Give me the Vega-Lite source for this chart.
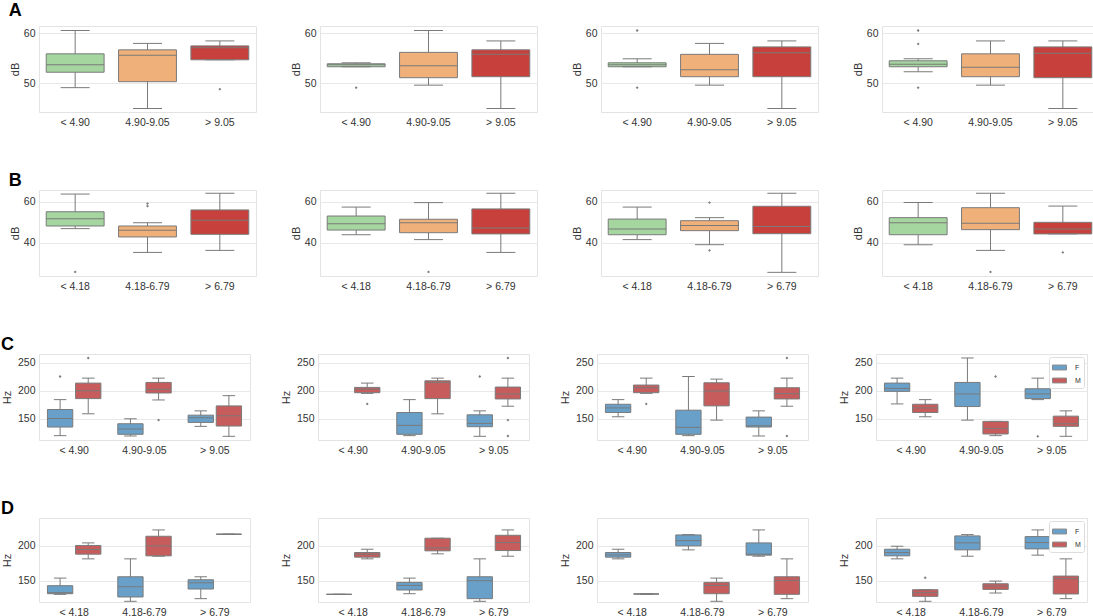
{
  "$schema": "https://vega.github.io/schema/vega-lite/v6.json",
  "background": "white",
  "padding": {"left": 0, "top": 1, "right": 0, "bottom": 0},
  "datasets": {
    "d": [
      {"p":"A1","c":"< 4.90","lo":49.1,"q1":52.2,"md":53.7,"q3":55.9,"hi":60.6},
      {"p":"A1","c":"4.90-9.05","lo":44.9,"q1":50.3,"md":55.6,"q3":56.7,"hi":58.0},
      {"p":"A1","c":"> 9.05","lo":54.7,"q1":54.7,"md":57.1,"q3":57.5,"hi":58.5},
      {"p":"A1","c":"> 9.05","v":48.8},
      {"p":"A2","c":"< 4.90","lo":53.3,"q1":53.3,"md":53.7,"q3":53.9,"hi":54.1},
      {"p":"A2","c":"< 4.90","v":49.1},
      {"p":"A2","c":"4.90-9.05","lo":49.6,"q1":51.1,"md":53.5,"q3":56.2,"hi":60.6},
      {"p":"A2","c":"> 9.05","lo":44.9,"q1":51.3,"md":55.8,"q3":56.7,"hi":58.5},
      {"p":"A3","c":"< 4.90","lo":53.3,"q1":53.3,"md":53.7,"q3":54.1,"hi":54.9},
      {"p":"A3","c":"< 4.90","v":60.6},
      {"p":"A3","c":"< 4.90","v":49.1},
      {"p":"A3","c":"4.90-9.05","lo":49.6,"q1":51.3,"md":52.7,"q3":55.8,"hi":58.0},
      {"p":"A3","c":"> 9.05","lo":44.9,"q1":51.3,"md":56.1,"q3":57.3,"hi":58.5},
      {"p":"A4","c":"< 4.90","lo":52.3,"q1":53.3,"md":53.8,"q3":54.5,"hi":54.9},
      {"p":"A4","c":"< 4.90","v":60.6},
      {"p":"A4","c":"< 4.90","v":57.9},
      {"p":"A4","c":"< 4.90","v":49.1},
      {"p":"A4","c":"4.90-9.05","lo":49.6,"q1":51.3,"md":53.2,"q3":55.9,"hi":58.5},
      {"p":"A4","c":"> 9.05","lo":44.9,"q1":51.1,"md":56.0,"q3":57.3,"hi":58.5},

      {"p":"B1","c":"< 4.18","lo":46.9,"q1":48.2,"md":51.8,"q3":55.2,"hi":63.9},
      {"p":"B1","c":"< 4.18","v":25.6},
      {"p":"B1","c":"4.18-6.79","lo":35.2,"q1":42.8,"md":46.1,"q3":48.2,"hi":49.8},
      {"p":"B1","c":"4.18-6.79","v":59.2},
      {"p":"B1","c":"4.18-6.79","v":58.0},
      {"p":"B1","c":"> 6.79","lo":36.2,"q1":44.1,"md":51.0,"q3":56.1,"hi":64.3},
      {"p":"B2","c":"< 4.18","lo":43.9,"q1":46.2,"md":49.3,"q3":53.1,"hi":57.5},
      {"p":"B2","c":"4.18-6.79","lo":41.5,"q1":44.9,"md":49.8,"q3":51.5,"hi":59.7},
      {"p":"B2","c":"4.18-6.79","v":25.6},
      {"p":"B2","c":"> 6.79","lo":35.2,"q1":44.3,"md":47.2,"q3":56.6,"hi":64.3},
      {"p":"B3","c":"< 4.18","lo":41.5,"q1":43.9,"md":46.7,"q3":51.6,"hi":57.5},
      {"p":"B3","c":"4.18-6.79","lo":39.0,"q1":45.9,"md":48.4,"q3":50.8,"hi":52.3},
      {"p":"B3","c":"4.18-6.79","v":59.7},
      {"p":"B3","c":"4.18-6.79","v":36.2},
      {"p":"B3","c":"> 6.79","lo":25.4,"q1":44.4,"md":48.0,"q3":57.9,"hi":64.3},
      {"p":"B4","c":"< 4.18","lo":39.0,"q1":43.9,"md":49.8,"q3":52.3,"hi":59.7},
      {"p":"B4","c":"4.18-6.79","lo":36.2,"q1":46.4,"md":49.5,"q3":57.2,"hi":64.3},
      {"p":"B4","c":"4.18-6.79","v":25.6},
      {"p":"B4","c":"> 6.79","lo":44.3,"q1":44.3,"md":46.7,"q3":50.0,"hi":58.0},
      {"p":"B4","c":"> 6.79","v":35.2},

      {"p":"C1","c":"< 4.90","h":"F","lo":119.8,"q1":135.2,"md":150.6,"q3":166.6,"hi":184.3},
      {"p":"C1","c":"< 4.90","h":"F","v":225.7},
      {"p":"C1","c":"< 4.90","h":"M","lo":158.9,"q1":186.1,"md":200.3,"q3":213.9,"hi":222.8},
      {"p":"C1","c":"< 4.90","h":"M","v":258.9},
      {"p":"C1","c":"4.90-9.05","h":"F","lo":119.2,"q1":122.2,"md":131.7,"q3":141.1,"hi":150.0},
      {"p":"C1","c":"4.90-9.05","h":"M","lo":183.7,"q1":196.2,"md":202.7,"q3":215.1,"hi":222.8},
      {"p":"C1","c":"4.90-9.05","h":"M","v":147.6},
      {"p":"C1","c":"> 9.05","h":"F","lo":136.4,"q1":143.5,"md":151.8,"q3":156.5,"hi":164.2},
      {"p":"C1","c":"> 9.05","h":"M","lo":118.6,"q1":137.0,"md":155.3,"q3":173.1,"hi":191.4},
      {"p":"C2","c":"< 4.90","h":"M","lo":195.5,"q1":196.7,"md":203.0,"q3":206.2,"hi":213.9},
      {"p":"C2","c":"< 4.90","h":"M","v":176.6},
      {"p":"C2","c":"4.90-9.05","h":"F","lo":119.8,"q1":122.2,"md":138.2,"q3":161.2,"hi":184.3},
      {"p":"C2","c":"4.90-9.05","h":"M","lo":158.9,"q1":186.1,"md":215.1,"q3":218.0,"hi":222.8},
      {"p":"C2","c":"> 9.05","h":"F","lo":118.6,"q1":135.8,"md":141.7,"q3":157.1,"hi":164.2},
      {"p":"C2","c":"> 9.05","h":"F","v":225.7},
      {"p":"C2","c":"> 9.05","h":"M","lo":172.5,"q1":185.5,"md":194.4,"q3":206.8,"hi":222.8},
      {"p":"C2","c":"> 9.05","h":"M","v":258.9},
      {"p":"C2","c":"> 9.05","h":"M","v":147.6},
      {"p":"C2","c":"> 9.05","h":"M","v":119.2},
      {"p":"C3","c":"< 4.90","h":"F","lo":153.6,"q1":161.2,"md":169.5,"q3":176.0,"hi":184.3},
      {"p":"C3","c":"< 4.90","h":"M","lo":195.5,"q1":196.7,"md":205.6,"q3":210.4,"hi":222.8},
      {"p":"C3","c":"< 4.90","h":"M","v":176.6},
      {"p":"C3","c":"4.90-9.05","h":"F","lo":119.8,"q1":122.2,"md":134.6,"q3":165.4,"hi":225.7},
      {"p":"C3","c":"4.90-9.05","h":"M","lo":147.6,"q1":173.1,"md":199.7,"q3":214.5,"hi":221.0},
      {"p":"C3","c":"> 9.05","h":"F","lo":119.2,"q1":135.2,"md":137.6,"q3":153.0,"hi":164.2},
      {"p":"C3","c":"> 9.05","h":"M","lo":172.5,"q1":185.5,"md":195.0,"q3":205.6,"hi":222.8},
      {"p":"C3","c":"> 9.05","h":"M","v":258.9},
      {"p":"C3","c":"> 9.05","h":"M","v":119.2},
      {"p":"C4","c":"< 4.90","h":"F","lo":176.6,"q1":199.1,"md":204.4,"q3":213.9,"hi":222.8},
      {"p":"C4","c":"< 4.90","h":"M","lo":153.6,"q1":161.2,"md":169.5,"q3":176.0,"hi":184.3},
      {"p":"C4","c":"4.90-9.05","h":"F","lo":147.6,"q1":171.9,"md":194.4,"q3":215.1,"hi":258.9},
      {"p":"C4","c":"4.90-9.05","h":"M","lo":119.8,"q1":122.8,"md":132.8,"q3":145.3,"hi":145.3},
      {"p":"C4","c":"4.90-9.05","h":"M","v":225.7},
      {"p":"C4","c":"> 9.05","h":"F","lo":184.3,"q1":186.1,"md":194.4,"q3":203.8,"hi":222.8},
      {"p":"C4","c":"> 9.05","h":"F","v":118.6},
      {"p":"C4","c":"> 9.05","h":"M","lo":118.6,"q1":136.4,"md":141.1,"q3":154.7,"hi":164.2},

      {"p":"D1","c":"< 4.18","h":"F","lo":130.5,"q1":131.4,"md":132.9,"q3":142.9,"hi":153.8},
      {"p":"D1","c":"< 4.18","h":"M","lo":181.4,"q1":188.1,"md":194.8,"q3":200.5,"hi":204.3},
      {"p":"D1","c":"4.18-6.79","h":"F","lo":120.5,"q1":126.7,"md":141.4,"q3":155.7,"hi":181.4},
      {"p":"D1","c":"4.18-6.79","h":"M","lo":185.2,"q1":185.7,"md":200.0,"q3":213.8,"hi":222.9},
      {"p":"D1","c":"> 6.79","h":"F","lo":124.3,"q1":138.1,"md":147.1,"q3":151.4,"hi":155.7},
      {"p":"D1","c":"> 6.79","h":"M","lo":216.7,"q1":216.7,"md":216.7,"q3":216.7,"hi":216.7},
      {"p":"D2","c":"< 4.18","h":"F","lo":130.5,"q1":130.5,"md":130.5,"q3":130.5,"hi":130.5},
      {"p":"D2","c":"< 4.18","h":"M","lo":181.4,"q1":183.8,"md":188.1,"q3":190.5,"hi":195.2},
      {"p":"D2","c":"4.18-6.79","h":"F","lo":131.4,"q1":136.7,"md":143.3,"q3":147.6,"hi":153.8},
      {"p":"D2","c":"4.18-6.79","h":"M","lo":188.6,"q1":192.9,"md":197.1,"q3":211.0,"hi":211.0},
      {"p":"D2","c":"> 6.79","h":"F","lo":120.5,"q1":124.3,"md":150.0,"q3":155.7,"hi":181.4},
      {"p":"D2","c":"> 6.79","h":"M","lo":185.2,"q1":193.3,"md":204.8,"q3":215.2,"hi":222.9},
      {"p":"D3","c":"< 4.18","h":"F","lo":181.4,"q1":183.8,"md":187.1,"q3":190.5,"hi":195.2},
      {"p":"D3","c":"< 4.18","h":"M","lo":131.0,"q1":131.0,"md":131.0,"q3":131.0,"hi":131.0},
      {"p":"D3","c":"4.18-6.79","h":"F","lo":194.3,"q1":200.0,"md":207.6,"q3":215.7,"hi":216.2},
      {"p":"D3","c":"4.18-6.79","h":"M","lo":120.5,"q1":131.4,"md":143.3,"q3":147.6,"hi":153.8},
      {"p":"D3","c":"> 6.79","h":"F","lo":185.2,"q1":186.7,"md":188.1,"q3":204.3,"hi":222.9},
      {"p":"D3","c":"> 6.79","h":"M","lo":124.3,"q1":130.5,"md":150.5,"q3":155.7,"hi":181.4},
      {"p":"D4","c":"< 4.18","h":"F","lo":181.4,"q1":185.7,"md":190.5,"q3":195.2,"hi":199.5},
      {"p":"D4","c":"< 4.18","h":"M","lo":120.5,"q1":127.6,"md":132.9,"q3":137.1,"hi":137.1},
      {"p":"D4","c":"< 4.18","h":"M","v":154.3},
      {"p":"D4","c":"4.18-6.79","h":"F","lo":185.2,"q1":194.3,"md":204.3,"q3":214.3,"hi":216.2},
      {"p":"D4","c":"4.18-6.79","h":"M","lo":132.4,"q1":137.6,"md":142.4,"q3":145.7,"hi":149.5},
      {"p":"D4","c":"> 6.79","h":"F","lo":186.7,"q1":195.7,"md":204.8,"q3":213.3,"hi":222.9},
      {"p":"D4","c":"> 6.79","h":"M","lo":124.3,"q1":131.0,"md":152.9,"q3":156.7,"hi":181.4}
    ]
  },
  "resolve": {"scale": {"color": "independent"}, "legend": {"color": "independent"}},
  "spacing": 43,
  "vconcat": [
    {
      "title": {"text": "A", "anchor": "start", "fontSize": 18, "fontWeight": "bold", "color": "#000000", "offset": 6},
      "spacing": 32,
      "hconcat": [
        {"width": 217, "height": 86, "data": {"name": "d"}, "transform": [{"filter": "datum.p == 'A1'"}],
         "encoding": {"x": {"field": "c", "type": "nominal", "sort": ["< 4.90", "4.90-9.05", "> 9.05"], "title": null, "scale": {"paddingInner": 0.2, "paddingOuter": 0.1}}},
         "layer": [
          {"mark": "rule", "encoding": {"y": {"field": "lo", "type": "quantitative", "title": "dB", "scale": {"domain": [44.2, 61.5], "nice": false, "zero": false}, "axis": {"values": [50, 60], "titlePadding": 3, "labelPadding": 4}}, "y2": {"field": "hi"}}},
          {"mark": "bar", "encoding": {"y": {"field": "q1", "type": "quantitative", "title": "dB"}, "y2": {"field": "q3"}, "color": {"field": "c", "type": "nominal", "scale": {"domain": ["< 4.90", "4.90-9.05", "> 9.05"], "range": ["#a5d6a0", "#f0b07a", "#c8403b"]}, "legend": null}}},
          {"mark": {"type": "tick", "size": 58}, "encoding": {"y": {"field": "md", "type": "quantitative", "title": "dB"}}},
          {"mark": {"type": "tick", "size": 29}, "encoding": {"y": {"field": "lo", "type": "quantitative", "title": "dB"}}},
          {"mark": {"type": "tick", "size": 29}, "encoding": {"y": {"field": "hi", "type": "quantitative", "title": "dB"}}},
          {"mark": "point", "encoding": {"y": {"field": "v", "type": "quantitative", "title": "dB"}}}
         ]},
        {"width": 217, "height": 86, "data": {"name": "d"}, "transform": [{"filter": "datum.p == 'A2'"}],
         "encoding": {"x": {"field": "c", "type": "nominal", "sort": ["< 4.90", "4.90-9.05", "> 9.05"], "title": null, "scale": {"paddingInner": 0.2, "paddingOuter": 0.1}}},
         "layer": [
          {"mark": "rule", "encoding": {"y": {"field": "lo", "type": "quantitative", "title": "dB", "scale": {"domain": [44.2, 61.5], "nice": false, "zero": false}, "axis": {"values": [50, 60], "titlePadding": 3, "labelPadding": 4}}, "y2": {"field": "hi"}}},
          {"mark": "bar", "encoding": {"y": {"field": "q1", "type": "quantitative", "title": "dB"}, "y2": {"field": "q3"}, "color": {"field": "c", "type": "nominal", "scale": {"domain": ["< 4.90", "4.90-9.05", "> 9.05"], "range": ["#a5d6a0", "#f0b07a", "#c8403b"]}, "legend": null}}},
          {"mark": {"type": "tick", "size": 58}, "encoding": {"y": {"field": "md", "type": "quantitative", "title": "dB"}}},
          {"mark": {"type": "tick", "size": 29}, "encoding": {"y": {"field": "lo", "type": "quantitative", "title": "dB"}}},
          {"mark": {"type": "tick", "size": 29}, "encoding": {"y": {"field": "hi", "type": "quantitative", "title": "dB"}}},
          {"mark": "point", "encoding": {"y": {"field": "v", "type": "quantitative", "title": "dB"}}}
         ]},
        {"width": 217, "height": 86, "data": {"name": "d"}, "transform": [{"filter": "datum.p == 'A3'"}],
         "encoding": {"x": {"field": "c", "type": "nominal", "sort": ["< 4.90", "4.90-9.05", "> 9.05"], "title": null, "scale": {"paddingInner": 0.2, "paddingOuter": 0.1}}},
         "layer": [
          {"mark": "rule", "encoding": {"y": {"field": "lo", "type": "quantitative", "title": "dB", "scale": {"domain": [44.2, 61.5], "nice": false, "zero": false}, "axis": {"values": [50, 60], "titlePadding": 3, "labelPadding": 4}}, "y2": {"field": "hi"}}},
          {"mark": "bar", "encoding": {"y": {"field": "q1", "type": "quantitative", "title": "dB"}, "y2": {"field": "q3"}, "color": {"field": "c", "type": "nominal", "scale": {"domain": ["< 4.90", "4.90-9.05", "> 9.05"], "range": ["#a5d6a0", "#f0b07a", "#c8403b"]}, "legend": null}}},
          {"mark": {"type": "tick", "size": 58}, "encoding": {"y": {"field": "md", "type": "quantitative", "title": "dB"}}},
          {"mark": {"type": "tick", "size": 29}, "encoding": {"y": {"field": "lo", "type": "quantitative", "title": "dB"}}},
          {"mark": {"type": "tick", "size": 29}, "encoding": {"y": {"field": "hi", "type": "quantitative", "title": "dB"}}},
          {"mark": "point", "encoding": {"y": {"field": "v", "type": "quantitative", "title": "dB"}}}
         ]},
        {"width": 217, "height": 86, "data": {"name": "d"}, "transform": [{"filter": "datum.p == 'A4'"}],
         "encoding": {"x": {"field": "c", "type": "nominal", "sort": ["< 4.90", "4.90-9.05", "> 9.05"], "title": null, "scale": {"paddingInner": 0.2, "paddingOuter": 0.1}}},
         "layer": [
          {"mark": "rule", "encoding": {"y": {"field": "lo", "type": "quantitative", "title": "dB", "scale": {"domain": [44.2, 61.5], "nice": false, "zero": false}, "axis": {"values": [50, 60], "titlePadding": 3, "labelPadding": 4}}, "y2": {"field": "hi"}}},
          {"mark": "bar", "encoding": {"y": {"field": "q1", "type": "quantitative", "title": "dB"}, "y2": {"field": "q3"}, "color": {"field": "c", "type": "nominal", "scale": {"domain": ["< 4.90", "4.90-9.05", "> 9.05"], "range": ["#a5d6a0", "#f0b07a", "#c8403b"]}, "legend": null}}},
          {"mark": {"type": "tick", "size": 58}, "encoding": {"y": {"field": "md", "type": "quantitative", "title": "dB"}}},
          {"mark": {"type": "tick", "size": 29}, "encoding": {"y": {"field": "lo", "type": "quantitative", "title": "dB"}}},
          {"mark": {"type": "tick", "size": 29}, "encoding": {"y": {"field": "hi", "type": "quantitative", "title": "dB"}}},
          {"mark": "point", "encoding": {"y": {"field": "v", "type": "quantitative", "title": "dB"}}}
         ]}
      ]
    },
    {
      "title": {"text": "B", "anchor": "start", "fontSize": 18, "fontWeight": "bold", "color": "#000000", "offset": 0},
      "spacing": 32,
      "hconcat": [
        {"width": 217, "height": 86, "data": {"name": "d"}, "transform": [{"filter": "datum.p == 'B1'"}],
         "encoding": {"x": {"field": "c", "type": "nominal", "sort": ["< 4.18", "4.18-6.79", "> 6.79"], "title": null, "scale": {"paddingInner": 0.2, "paddingOuter": 0.1}}},
         "layer": [
          {"mark": "rule", "encoding": {"y": {"field": "lo", "type": "quantitative", "title": "dB", "scale": {"domain": [23.6, 65.9], "nice": false, "zero": false}, "axis": {"values": [40, 60], "titlePadding": 3, "labelPadding": 4}}, "y2": {"field": "hi"}}},
          {"mark": "bar", "encoding": {"y": {"field": "q1", "type": "quantitative", "title": "dB"}, "y2": {"field": "q3"}, "color": {"field": "c", "type": "nominal", "scale": {"domain": ["< 4.18", "4.18-6.79", "> 6.79"], "range": ["#a5d6a0", "#f0b07a", "#c8403b"]}, "legend": null}}},
          {"mark": {"type": "tick", "size": 58}, "encoding": {"y": {"field": "md", "type": "quantitative", "title": "dB"}}},
          {"mark": {"type": "tick", "size": 29}, "encoding": {"y": {"field": "lo", "type": "quantitative", "title": "dB"}}},
          {"mark": {"type": "tick", "size": 29}, "encoding": {"y": {"field": "hi", "type": "quantitative", "title": "dB"}}},
          {"mark": "point", "encoding": {"y": {"field": "v", "type": "quantitative", "title": "dB"}}}
         ]},
        {"width": 217, "height": 86, "data": {"name": "d"}, "transform": [{"filter": "datum.p == 'B2'"}],
         "encoding": {"x": {"field": "c", "type": "nominal", "sort": ["< 4.18", "4.18-6.79", "> 6.79"], "title": null, "scale": {"paddingInner": 0.2, "paddingOuter": 0.1}}},
         "layer": [
          {"mark": "rule", "encoding": {"y": {"field": "lo", "type": "quantitative", "title": "dB", "scale": {"domain": [23.6, 65.9], "nice": false, "zero": false}, "axis": {"values": [40, 60], "titlePadding": 3, "labelPadding": 4}}, "y2": {"field": "hi"}}},
          {"mark": "bar", "encoding": {"y": {"field": "q1", "type": "quantitative", "title": "dB"}, "y2": {"field": "q3"}, "color": {"field": "c", "type": "nominal", "scale": {"domain": ["< 4.18", "4.18-6.79", "> 6.79"], "range": ["#a5d6a0", "#f0b07a", "#c8403b"]}, "legend": null}}},
          {"mark": {"type": "tick", "size": 58}, "encoding": {"y": {"field": "md", "type": "quantitative", "title": "dB"}}},
          {"mark": {"type": "tick", "size": 29}, "encoding": {"y": {"field": "lo", "type": "quantitative", "title": "dB"}}},
          {"mark": {"type": "tick", "size": 29}, "encoding": {"y": {"field": "hi", "type": "quantitative", "title": "dB"}}},
          {"mark": "point", "encoding": {"y": {"field": "v", "type": "quantitative", "title": "dB"}}}
         ]},
        {"width": 217, "height": 86, "data": {"name": "d"}, "transform": [{"filter": "datum.p == 'B3'"}],
         "encoding": {"x": {"field": "c", "type": "nominal", "sort": ["< 4.18", "4.18-6.79", "> 6.79"], "title": null, "scale": {"paddingInner": 0.2, "paddingOuter": 0.1}}},
         "layer": [
          {"mark": "rule", "encoding": {"y": {"field": "lo", "type": "quantitative", "title": "dB", "scale": {"domain": [23.6, 65.9], "nice": false, "zero": false}, "axis": {"values": [40, 60], "titlePadding": 3, "labelPadding": 4}}, "y2": {"field": "hi"}}},
          {"mark": "bar", "encoding": {"y": {"field": "q1", "type": "quantitative", "title": "dB"}, "y2": {"field": "q3"}, "color": {"field": "c", "type": "nominal", "scale": {"domain": ["< 4.18", "4.18-6.79", "> 6.79"], "range": ["#a5d6a0", "#f0b07a", "#c8403b"]}, "legend": null}}},
          {"mark": {"type": "tick", "size": 58}, "encoding": {"y": {"field": "md", "type": "quantitative", "title": "dB"}}},
          {"mark": {"type": "tick", "size": 29}, "encoding": {"y": {"field": "lo", "type": "quantitative", "title": "dB"}}},
          {"mark": {"type": "tick", "size": 29}, "encoding": {"y": {"field": "hi", "type": "quantitative", "title": "dB"}}},
          {"mark": "point", "encoding": {"y": {"field": "v", "type": "quantitative", "title": "dB"}}}
         ]},
        {"width": 217, "height": 86, "data": {"name": "d"}, "transform": [{"filter": "datum.p == 'B4'"}],
         "encoding": {"x": {"field": "c", "type": "nominal", "sort": ["< 4.18", "4.18-6.79", "> 6.79"], "title": null, "scale": {"paddingInner": 0.2, "paddingOuter": 0.1}}},
         "layer": [
          {"mark": "rule", "encoding": {"y": {"field": "lo", "type": "quantitative", "title": "dB", "scale": {"domain": [23.6, 65.9], "nice": false, "zero": false}, "axis": {"values": [40, 60], "titlePadding": 3, "labelPadding": 4}}, "y2": {"field": "hi"}}},
          {"mark": "bar", "encoding": {"y": {"field": "q1", "type": "quantitative", "title": "dB"}, "y2": {"field": "q3"}, "color": {"field": "c", "type": "nominal", "scale": {"domain": ["< 4.18", "4.18-6.79", "> 6.79"], "range": ["#a5d6a0", "#f0b07a", "#c8403b"]}, "legend": null}}},
          {"mark": {"type": "tick", "size": 58}, "encoding": {"y": {"field": "md", "type": "quantitative", "title": "dB"}}},
          {"mark": {"type": "tick", "size": 29}, "encoding": {"y": {"field": "lo", "type": "quantitative", "title": "dB"}}},
          {"mark": {"type": "tick", "size": 29}, "encoding": {"y": {"field": "hi", "type": "quantitative", "title": "dB"}}},
          {"mark": "point", "encoding": {"y": {"field": "v", "type": "quantitative", "title": "dB"}}}
         ]}
      ]
    },
    {
      "title": {"text": "C", "anchor": "start", "fontSize": 18, "fontWeight": "bold", "color": "#000000", "offset": 0},
      "spacing": 28,
      "resolve": {"scale": {"color": "independent"}, "legend": {"color": "independent"}},
      "hconcat": [
        {"width": 211, "height": 86, "data": {"name": "d"}, "transform": [{"filter": "datum.p == 'C1'"}],
         "encoding": {"x": {"field": "c", "type": "nominal", "sort": ["< 4.90", "4.90-9.05", "> 9.05"], "title": null, "scale": {"paddingInner": 0, "paddingOuter": 0}},
                      "xOffset": {"field": "h", "type": "nominal", "scale": {"domain": ["F", "M"], "paddingInner": 0.1, "paddingOuter": 0.3}}},
         "layer": [
          {"mark": "rule", "encoding": {"y": {"field": "lo", "type": "quantitative", "title": "Hz", "scale": {"domain": [112, 266], "nice": false, "zero": false}, "axis": {"values": [150, 200, 250]}}, "y2": {"field": "hi"}}},
          {"mark": "bar", "encoding": {"y": {"field": "q1", "type": "quantitative", "title": "Hz"}, "y2": {"field": "q3"}, "color": {"field": "h", "type": "nominal", "scale": {"domain": ["F", "M"], "range": ["#68a0c9", "#c75c5c"]}, "legend": null}}},
          {"mark": {"type": "tick", "size": 25}, "encoding": {"y": {"field": "md", "type": "quantitative", "title": "Hz"}}},
          {"mark": {"type": "tick", "size": 12.5}, "encoding": {"y": {"field": "lo", "type": "quantitative", "title": "Hz"}}},
          {"mark": {"type": "tick", "size": 12.5}, "encoding": {"y": {"field": "hi", "type": "quantitative", "title": "Hz"}}},
          {"mark": "point", "encoding": {"y": {"field": "v", "type": "quantitative", "title": "Hz"}}}
         ]},
        {"width": 211, "height": 86, "data": {"name": "d"}, "transform": [{"filter": "datum.p == 'C2'"}],
         "encoding": {"x": {"field": "c", "type": "nominal", "sort": ["< 4.90", "4.90-9.05", "> 9.05"], "title": null, "scale": {"paddingInner": 0, "paddingOuter": 0}},
                      "xOffset": {"field": "h", "type": "nominal", "scale": {"domain": ["F", "M"], "paddingInner": 0.1, "paddingOuter": 0.3}}},
         "layer": [
          {"mark": "rule", "encoding": {"y": {"field": "lo", "type": "quantitative", "title": "Hz", "scale": {"domain": [112, 266], "nice": false, "zero": false}, "axis": {"values": [150, 200, 250]}}, "y2": {"field": "hi"}}},
          {"mark": "bar", "encoding": {"y": {"field": "q1", "type": "quantitative", "title": "Hz"}, "y2": {"field": "q3"}, "color": {"field": "h", "type": "nominal", "scale": {"domain": ["F", "M"], "range": ["#68a0c9", "#c75c5c"]}, "legend": null}}},
          {"mark": {"type": "tick", "size": 25}, "encoding": {"y": {"field": "md", "type": "quantitative", "title": "Hz"}}},
          {"mark": {"type": "tick", "size": 12.5}, "encoding": {"y": {"field": "lo", "type": "quantitative", "title": "Hz"}}},
          {"mark": {"type": "tick", "size": 12.5}, "encoding": {"y": {"field": "hi", "type": "quantitative", "title": "Hz"}}},
          {"mark": "point", "encoding": {"y": {"field": "v", "type": "quantitative", "title": "Hz"}}}
         ]},
        {"width": 211, "height": 86, "data": {"name": "d"}, "transform": [{"filter": "datum.p == 'C3'"}],
         "encoding": {"x": {"field": "c", "type": "nominal", "sort": ["< 4.90", "4.90-9.05", "> 9.05"], "title": null, "scale": {"paddingInner": 0, "paddingOuter": 0}},
                      "xOffset": {"field": "h", "type": "nominal", "scale": {"domain": ["F", "M"], "paddingInner": 0.1, "paddingOuter": 0.3}}},
         "layer": [
          {"mark": "rule", "encoding": {"y": {"field": "lo", "type": "quantitative", "title": "Hz", "scale": {"domain": [112, 266], "nice": false, "zero": false}, "axis": {"values": [150, 200, 250]}}, "y2": {"field": "hi"}}},
          {"mark": "bar", "encoding": {"y": {"field": "q1", "type": "quantitative", "title": "Hz"}, "y2": {"field": "q3"}, "color": {"field": "h", "type": "nominal", "scale": {"domain": ["F", "M"], "range": ["#68a0c9", "#c75c5c"]}, "legend": null}}},
          {"mark": {"type": "tick", "size": 25}, "encoding": {"y": {"field": "md", "type": "quantitative", "title": "Hz"}}},
          {"mark": {"type": "tick", "size": 12.5}, "encoding": {"y": {"field": "lo", "type": "quantitative", "title": "Hz"}}},
          {"mark": {"type": "tick", "size": 12.5}, "encoding": {"y": {"field": "hi", "type": "quantitative", "title": "Hz"}}},
          {"mark": "point", "encoding": {"y": {"field": "v", "type": "quantitative", "title": "Hz"}}}
         ]},
        {"width": 211, "height": 86, "data": {"name": "d"}, "transform": [{"filter": "datum.p == 'C4'"}],
         "encoding": {"x": {"field": "c", "type": "nominal", "sort": ["< 4.90", "4.90-9.05", "> 9.05"], "title": null, "scale": {"paddingInner": 0, "paddingOuter": 0}},
                      "xOffset": {"field": "h", "type": "nominal", "scale": {"domain": ["F", "M"], "paddingInner": 0.1, "paddingOuter": 0.3}}},
         "layer": [
          {"mark": "rule", "encoding": {"y": {"field": "lo", "type": "quantitative", "title": "Hz", "scale": {"domain": [112, 266], "nice": false, "zero": false}, "axis": {"values": [150, 200, 250]}}, "y2": {"field": "hi"}}},
          {"mark": "bar", "encoding": {"y": {"field": "q1", "type": "quantitative", "title": "Hz"}, "y2": {"field": "q3"}, "color": {"field": "h", "type": "nominal", "scale": {"domain": ["F", "M"], "range": ["#68a0c9", "#c75c5c"]},
            "legend": {"title": null, "orient": "top-right", "offset": 3, "padding": 3, "fillColor": "#ffffff", "strokeColor": "#dddddd", "cornerRadius": 2, "symbolType": "M-1,-0.35L1,-0.35L1,0.35L-1,0.35Z", "symbolSize": 196, "symbolStrokeColor": "#8a8a8a", "symbolStrokeWidth": 0.5, "labelFontSize": 7, "labelColor": "#333333", "rowPadding": 1, "labelOffset": 8}}}},
          {"mark": {"type": "tick", "size": 25}, "encoding": {"y": {"field": "md", "type": "quantitative", "title": "Hz"}}},
          {"mark": {"type": "tick", "size": 12.5}, "encoding": {"y": {"field": "lo", "type": "quantitative", "title": "Hz"}}},
          {"mark": {"type": "tick", "size": 12.5}, "encoding": {"y": {"field": "hi", "type": "quantitative", "title": "Hz"}}},
          {"mark": "point", "encoding": {"y": {"field": "v", "type": "quantitative", "title": "Hz"}}}
         ]}
      ]
    },
    {
      "title": {"text": "D", "anchor": "start", "fontSize": 18, "fontWeight": "bold", "color": "#000000", "offset": 0},
      "spacing": 28,
      "resolve": {"scale": {"color": "independent"}, "legend": {"color": "independent"}},
      "hconcat": [
        {"width": 211, "height": 84, "data": {"name": "d"}, "transform": [{"filter": "datum.p == 'D1'"}],
         "encoding": {"x": {"field": "c", "type": "nominal", "sort": ["< 4.18", "4.18-6.79", "> 6.79"], "title": null, "scale": {"paddingInner": 0, "paddingOuter": 0}},
                      "xOffset": {"field": "h", "type": "nominal", "scale": {"domain": ["F", "M"], "paddingInner": 0.1, "paddingOuter": 0.3}}},
         "layer": [
          {"mark": "rule", "encoding": {"y": {"field": "lo", "type": "quantitative", "title": "Hz", "scale": {"domain": [119.5, 240], "nice": false, "zero": false}, "axis": {"values": [150, 200]}}, "y2": {"field": "hi"}}},
          {"mark": "bar", "encoding": {"y": {"field": "q1", "type": "quantitative", "title": "Hz"}, "y2": {"field": "q3"}, "color": {"field": "h", "type": "nominal", "scale": {"domain": ["F", "M"], "range": ["#68a0c9", "#c75c5c"]}, "legend": null}}},
          {"mark": {"type": "tick", "size": 25}, "encoding": {"y": {"field": "md", "type": "quantitative", "title": "Hz"}}},
          {"mark": {"type": "tick", "size": 12.5}, "encoding": {"y": {"field": "lo", "type": "quantitative", "title": "Hz"}}},
          {"mark": {"type": "tick", "size": 12.5}, "encoding": {"y": {"field": "hi", "type": "quantitative", "title": "Hz"}}},
          {"mark": "point", "encoding": {"y": {"field": "v", "type": "quantitative", "title": "Hz"}}}
         ]},
        {"width": 211, "height": 84, "data": {"name": "d"}, "transform": [{"filter": "datum.p == 'D2'"}],
         "encoding": {"x": {"field": "c", "type": "nominal", "sort": ["< 4.18", "4.18-6.79", "> 6.79"], "title": null, "scale": {"paddingInner": 0, "paddingOuter": 0}},
                      "xOffset": {"field": "h", "type": "nominal", "scale": {"domain": ["F", "M"], "paddingInner": 0.1, "paddingOuter": 0.3}}},
         "layer": [
          {"mark": "rule", "encoding": {"y": {"field": "lo", "type": "quantitative", "title": "Hz", "scale": {"domain": [119.5, 240], "nice": false, "zero": false}, "axis": {"values": [150, 200]}}, "y2": {"field": "hi"}}},
          {"mark": "bar", "encoding": {"y": {"field": "q1", "type": "quantitative", "title": "Hz"}, "y2": {"field": "q3"}, "color": {"field": "h", "type": "nominal", "scale": {"domain": ["F", "M"], "range": ["#68a0c9", "#c75c5c"]}, "legend": null}}},
          {"mark": {"type": "tick", "size": 25}, "encoding": {"y": {"field": "md", "type": "quantitative", "title": "Hz"}}},
          {"mark": {"type": "tick", "size": 12.5}, "encoding": {"y": {"field": "lo", "type": "quantitative", "title": "Hz"}}},
          {"mark": {"type": "tick", "size": 12.5}, "encoding": {"y": {"field": "hi", "type": "quantitative", "title": "Hz"}}},
          {"mark": "point", "encoding": {"y": {"field": "v", "type": "quantitative", "title": "Hz"}}}
         ]},
        {"width": 211, "height": 84, "data": {"name": "d"}, "transform": [{"filter": "datum.p == 'D3'"}],
         "encoding": {"x": {"field": "c", "type": "nominal", "sort": ["< 4.18", "4.18-6.79", "> 6.79"], "title": null, "scale": {"paddingInner": 0, "paddingOuter": 0}},
                      "xOffset": {"field": "h", "type": "nominal", "scale": {"domain": ["F", "M"], "paddingInner": 0.1, "paddingOuter": 0.3}}},
         "layer": [
          {"mark": "rule", "encoding": {"y": {"field": "lo", "type": "quantitative", "title": "Hz", "scale": {"domain": [119.5, 240], "nice": false, "zero": false}, "axis": {"values": [150, 200]}}, "y2": {"field": "hi"}}},
          {"mark": "bar", "encoding": {"y": {"field": "q1", "type": "quantitative", "title": "Hz"}, "y2": {"field": "q3"}, "color": {"field": "h", "type": "nominal", "scale": {"domain": ["F", "M"], "range": ["#68a0c9", "#c75c5c"]}, "legend": null}}},
          {"mark": {"type": "tick", "size": 25}, "encoding": {"y": {"field": "md", "type": "quantitative", "title": "Hz"}}},
          {"mark": {"type": "tick", "size": 12.5}, "encoding": {"y": {"field": "lo", "type": "quantitative", "title": "Hz"}}},
          {"mark": {"type": "tick", "size": 12.5}, "encoding": {"y": {"field": "hi", "type": "quantitative", "title": "Hz"}}},
          {"mark": "point", "encoding": {"y": {"field": "v", "type": "quantitative", "title": "Hz"}}}
         ]},
        {"width": 211, "height": 84, "data": {"name": "d"}, "transform": [{"filter": "datum.p == 'D4'"}],
         "encoding": {"x": {"field": "c", "type": "nominal", "sort": ["< 4.18", "4.18-6.79", "> 6.79"], "title": null, "scale": {"paddingInner": 0, "paddingOuter": 0}},
                      "xOffset": {"field": "h", "type": "nominal", "scale": {"domain": ["F", "M"], "paddingInner": 0.1, "paddingOuter": 0.3}}},
         "layer": [
          {"mark": "rule", "encoding": {"y": {"field": "lo", "type": "quantitative", "title": "Hz", "scale": {"domain": [119.5, 240], "nice": false, "zero": false}, "axis": {"values": [150, 200]}}, "y2": {"field": "hi"}}},
          {"mark": "bar", "encoding": {"y": {"field": "q1", "type": "quantitative", "title": "Hz"}, "y2": {"field": "q3"}, "color": {"field": "h", "type": "nominal", "scale": {"domain": ["F", "M"], "range": ["#68a0c9", "#c75c5c"]},
            "legend": {"title": null, "orient": "top-right", "offset": 3, "padding": 3, "fillColor": "#ffffff", "strokeColor": "#dddddd", "cornerRadius": 2, "symbolType": "M-1,-0.35L1,-0.35L1,0.35L-1,0.35Z", "symbolSize": 196, "symbolStrokeColor": "#8a8a8a", "symbolStrokeWidth": 0.5, "labelFontSize": 7, "labelColor": "#333333", "rowPadding": 1, "labelOffset": 8}}}},
          {"mark": {"type": "tick", "size": 25}, "encoding": {"y": {"field": "md", "type": "quantitative", "title": "Hz"}}},
          {"mark": {"type": "tick", "size": 12.5}, "encoding": {"y": {"field": "lo", "type": "quantitative", "title": "Hz"}}},
          {"mark": {"type": "tick", "size": 12.5}, "encoding": {"y": {"field": "hi", "type": "quantitative", "title": "Hz"}}},
          {"mark": "point", "encoding": {"y": {"field": "v", "type": "quantitative", "title": "Hz"}}}
         ]}
      ]
    }
  ],
  "config": {
    "font": "Liberation Sans",
    "view": {"stroke": "#e3e3e3", "strokeWidth": 1},
    "axis": {"domain": false, "ticks": false, "labelFontSize": 10.5, "labelColor": "#333333", "titleFontSize": 11, "titleFontWeight": "normal", "titleColor": "#333333", "gridColor": "#e8e8e8", "gridWidth": 1},
    "axisX": {"grid": false, "labelAngle": 0, "labelPadding": 5},
    "axisY": {"grid": true, "labelPadding": 4, "titlePadding": 5, "minExtent": 0},
    "rule": {"color": "#7a7a7a", "strokeWidth": 1},
    "bar": {"stroke": "#7a7a7a", "strokeWidth": 1},
    "tick": {"color": "#7a7a7a", "thickness": 1, "opacity": 1},
    "point": {"color": "#7a7a7a", "shape": "diamond", "filled": true, "size": 8, "opacity": 1}
  }
}
